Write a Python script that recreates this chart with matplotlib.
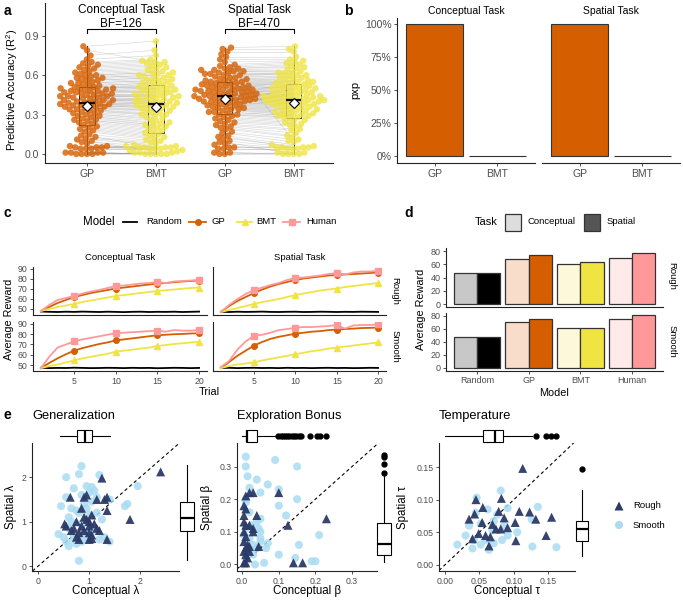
import numpy as np
import matplotlib
matplotlib.use('Agg')
import matplotlib.pyplot as plt
from matplotlib.patches import Rectangle
from matplotlib.collections import LineCollection

plt.rcParams['font.family'] = ['Liberation Sans', 'DejaVu Sans']
plt.rcParams['mathtext.default'] = 'regular'

# ---------------- DATA ----------------
# Panel a: predictive accuracy (R^2), participant-paired
conc_gp = [0.00,0.01,0.00,0.01,0.00,0.01,0.00,0.01,0.04,0.05,0.04,0.06,0.05,0.04,0.06,0.05,
           0.08,0.09,0.10,0.11,0.12,0.13,0.14,0.15,0.17,0.18,
           0.19,0.20,0.21,0.22,0.23,0.24,0.25,0.26,0.26,0.27,0.28,0.29,0.29,0.30,0.31,0.31,0.32,0.33,0.33,0.34,
           0.34,0.35,0.35,0.36,0.36,0.37,0.37,0.37,0.38,0.38,
           0.38,0.39,0.39,0.40,0.40,0.41,0.41,0.41,0.42,0.42,0.43,0.43,0.44,0.44,0.44,0.45,0.45,0.46,0.46,0.46,
           0.47,0.47,0.48,0.48,0.48,0.49,0.49,0.50,0.50,0.50,
           0.51,0.51,0.52,0.52,0.53,0.54,0.54,0.55,0.56,0.56,0.57,0.58,0.58,0.59,0.60,0.60,0.61,0.62,0.63,0.64,
           0.65,0.66,0.67,0.68,0.69,0.70,0.72,0.75,0.79,0.82]
conc_bmt = [0.00,0.00,0.01,0.00,0.01,0.00,0.01,0.00,0.04,0.05,0.03,0.05,0.04,0.06,0.05,0.04,
            0.03,0.06,0.02,0.07,0.08,0.09,0.05,0.10,0.11,0.12,
            0.13,0.14,0.15,0.16,0.17,0.18,0.19,0.20,0.21,0.22,0.22,0.23,0.24,0.25,0.26,0.27,0.28,0.29,0.30,0.30,
            0.31,0.32,0.33,0.33,0.34,0.35,0.35,0.36,0.36,0.37,
            0.37,0.38,0.38,0.39,0.39,0.40,0.40,0.41,0.41,0.42,0.42,0.43,0.43,0.44,0.44,0.45,0.45,0.46,0.46,0.47,
            0.47,0.48,0.48,0.49,0.49,0.50,0.50,0.51,0.51,0.52,
            0.52,0.53,0.54,0.54,0.55,0.56,0.56,0.57,0.58,0.58,0.59,0.60,0.60,0.61,0.62,0.62,0.63,0.64,0.65,0.66,
            0.67,0.68,0.69,0.70,0.71,0.72,0.75,0.79,0.70,0.86]
spat_gp = [0.00,0.01,0.00,0.01,0.04,0.05,0.04,0.05,
           0.07,0.08,0.09,0.10,0.12,0.13,0.14,0.16,0.17,0.19,0.20,0.21,0.22,0.23,0.24,0.25,0.26,0.27,0.28,0.29,0.30,0.30,
           0.31,0.32,0.32,0.33,0.34,0.34,0.35,0.35,0.36,0.36,0.37,0.37,0.38,0.38,0.39,0.39,0.40,0.40,0.40,0.41,
           0.41,0.41,0.42,0.42,0.42,0.43,0.43,0.43,0.44,0.44,
           0.44,0.45,0.45,0.45,0.46,0.46,0.46,0.47,0.47,0.47,0.48,0.48,0.48,0.49,0.49,0.49,0.50,0.50,0.50,0.51,
           0.51,0.52,0.52,0.52,0.53,0.53,0.54,0.54,0.54,0.55,
           0.55,0.56,0.56,0.57,0.57,0.58,0.58,0.59,0.60,0.60,0.61,0.61,0.62,0.62,0.63,0.63,0.64,0.64,0.65,0.65,
           0.66,0.67,0.68,0.70,0.72,0.74,0.76,0.78,0.80,0.81]
spat_bmt = [0.00,0.00,0.01,0.00,0.04,0.05,0.04,0.05,
            0.01,0.04,0.00,0.05,0.06,0.05,0.07,0.09,0.11,0.13,0.14,0.16,0.18,0.19,0.21,0.22,0.23,0.24,0.25,0.26,0.27,0.28,
            0.28,0.29,0.29,0.30,0.30,0.31,0.31,0.32,0.32,0.33,0.33,0.34,0.34,0.35,0.35,0.36,0.36,0.37,0.37,0.38,
            0.38,0.38,0.39,0.39,0.39,0.40,0.40,0.40,0.41,0.41,
            0.41,0.42,0.42,0.42,0.43,0.43,0.43,0.44,0.44,0.44,0.45,0.45,0.45,0.46,0.46,0.47,0.47,0.48,0.48,0.49,
            0.49,0.50,0.50,0.50,0.51,0.51,0.52,0.52,0.53,0.53,
            0.54,0.54,0.55,0.55,0.56,0.56,0.57,0.58,0.58,0.59,0.60,0.60,0.61,0.62,0.62,0.63,0.64,0.65,0.66,0.67,
            0.68,0.69,0.70,0.71,0.72,0.74,0.10,0.78,0.80,0.82]
bf_labels = ['BF=126', 'BF=470']
task_titles = ['Conceptual Task', 'Spatial Task']
model_ticks = ['GP', 'BMT']

# Panel b: protected exceedance probability
pxp_conceptual = [1.0, 0.003]
pxp_spatial = [1.0, 0.003]

# Panel c: learning curves (trial 1..20)
trials = list(range(1, 21))
cr_random = [47.5,47.2,47.0,47.3,47.1,47.4,47.2,47.0,47.3,47.1,46.9,47.2,47.3,47.0,47.2,47.1,47.3,47.0,47.2,47.4]
cr_gp     = [48,52,56,59,62,64,66,67.5,69,70.5,71.5,72.5,73.5,74.5,75.5,76,76.8,77.5,78,78.5]
cr_bmt    = [48,50,52,53.5,55,57,58.5,60,61.5,63,64,65,66,67,68,68.8,69.5,70.3,71,71.5]
cr_human  = [48,54,59,61,63,65.5,67.5,69,71,73,73.5,74.5,75.5,76,77,76,77.5,78,78.5,79]
sr_random = [47.2,47.0,47.3,47.1,47.2,47.4,47.1,47.0,47.2,47.3,47.0,47.1,47.3,47.2,47.0,47.2,47.1,47.3,47.2,47.1]
sr_gp     = [47,53,58,62,66,69.5,72.5,75,77,79,80.5,81.5,82.5,83.5,84,84.5,85,85.5,86,86.5]
sr_bmt    = [47,49,51,53,55,57,58.5,60,62,64,65.5,67,68.5,69.5,70.5,72,73,74,75,76]
sr_human  = [47,54,60,65,69,71.5,74,76,79,81,81.5,82.5,83.5,85,86,84.5,86.5,87.5,87.5,88]
cs_random = [47.3,47.0,47.2,47.1,47.4,47.2,47.0,47.1,47.3,47.2,47.0,47.3,47.1,47.2,46.9,47.1,47.3,47.2,47.0,47.2]
cs_gp     = [47,52,56.5,60.5,64,66.5,68.5,70.5,72,74,75,76,77,78,79,79.5,80,80.3,80.7,81]
cs_bmt    = [47,49,50.5,52.5,54.5,56.5,58,59.5,61,63,64,65,66,67,68.5,69.5,70.5,71.2,72,72.5]
cs_human  = [47,58,67,70,73,75,76.5,78,79.5,81,81.5,82,82.5,83,83.5,82.5,84,83.5,83.5,84]
ss_random = [47.1,47.3,47.0,47.2,47.3,47.1,47.2,47.0,47.3,47.1,47.2,47.0,47.2,47.3,47.1,47.2,47.0,47.1,47.3,47.2]
ss_gp     = [47,53,59,64,69,72.5,75.5,77.5,79,80.5,81.5,82.5,83,84,84.5,85,85.5,86,86.2,86.5]
ss_bmt    = [47,49,50.5,51.5,52.5,54.5,56,57.5,59,60.5,62,63.5,64.5,66,67,68,69,70,71,72]
ss_human  = [48,54,65,73,78.5,79.5,81.5,84,85,86.5,87,87,87.5,88,89,85.5,88.5,89,89,89.5]
model_names = ['Random', 'GP', 'BMT', 'Human']

# Panel d: average reward by model and task
rough_conceptual = [47, 68, 61, 69]
rough_spatial    = [47, 74, 63, 77]
smooth_conceptual = [47, 70, 62, 76]
smooth_spatial    = [47, 76, 61, 81]

# Panel e: parameter estimates (conceptual x, spatial y)
lam_smooth_x = [0.85,0.55,0.80,1.20,1.95,0.70,0.95,1.05,1.10,0.85,1.15,1.40,0.45,1.70,1.75,0.65,0.75,0.80,0.95,1.05,
                1.00,0.65,0.60,0.40,0.55,0.60,0.75,0.85,0.95,1.00,1.20,1.40,1.30,0.80,0.70,0.90,1.10,0.85,1.25,0.55,
                1.00,0.90,0.70,0.50,1.15,0.60]
lam_smooth_y = [2.25,2.00,2.07,2.05,1.80,1.75,1.80,1.78,1.70,1.60,1.55,1.50,1.35,1.35,1.40,1.30,1.25,1.20,1.30,1.45,
                1.15,1.00,0.85,0.72,0.55,0.45,0.50,0.55,0.60,0.65,0.60,0.55,0.65,0.12,0.70,0.75,0.80,0.95,1.05,1.55,
                1.65,1.40,0.60,0.65,1.20,1.10]
lam_rough_x = [1.25,2.40,0.63,0.95,0.90,1.15,1.35,1.30,1.35,1.80,0.52,0.55,0.75,0.95,1.00,1.10,1.15,1.20,0.65,0.80,
               0.90,1.00,1.05,0.75,0.80,1.05,1.35,0.70,0.85,1.00,0.90,1.05,0.85,1.00]
lam_rough_y = [1.98,2.12,1.55,1.60,1.55,1.50,1.55,1.50,1.25,1.05,0.95,0.90,1.00,1.05,1.00,0.95,0.85,0.80,0.80,0.75,
               0.80,0.75,0.70,0.65,0.60,0.62,0.60,0.85,0.90,0.90,1.10,1.15,1.30,0.60]
beta_smooth_x = [0.010,0.010,0.090,0.150,0.015,0.040,0.070,0.100,0.050,0.020,0.010,0.150,0.100,0.010,0.120,0.020,
                 0.050,0.040,0.010,0.050,0.210,0.020,0.050,0.030,0.070,0.065,0.155,0.100,0.145,0.060,0.190,0.200,
                 0.010,0.030,0.040,0.020,0.015,0.005,0.035,0.050,0.025,0.045]
beta_smooth_y = [0.330,0.300,0.320,0.300,0.270,0.260,0.245,0.230,0.220,0.235,0.200,0.200,0.180,0.190,0.150,0.160,
                 0.140,0.130,0.110,0.100,0.090,0.080,0.080,0.060,0.065,0.050,0.060,0.030,0.020,0.005,0.010,0.010,
                 0.020,0.030,0.050,0.045,0.070,0.090,0.000,0.070,0.120,0.110]
beta_rough_x = [0.020,0.030,0.010,0.100,0.005,0.010,0.040,0.005,0.010,0.020,0.030,0.125,0.230,0.005,0.010,0.005,
                0.015,0.010,0.020,0.045,0.005,0.010,0.015,0.005,0.010,0.140,0.165,0.030,0.005,0.020]
beta_rough_y = [0.220,0.220,0.210,0.220,0.180,0.170,0.150,0.150,0.120,0.120,0.110,0.120,0.140,0.100,0.085,0.070,
                0.060,0.050,0.055,0.055,0.040,0.030,0.020,0.005,0.005,0.005,0.005,0.100,0.130,0.040]
tau_smooth_x = [0.081,0.046,0.135,0.091,0.062,0.126,0.076,0.052,0.071,0.105,0.091,0.042,0.052,0.064,0.127,0.162,
                0.083,0.071,0.059,0.086,0.069,0.018,0.030,0.040,0.035,0.045]
tau_smooth_y = [0.114,0.103,0.089,0.087,0.085,0.070,0.077,0.063,0.067,0.050,0.045,0.038,0.031,0.023,0.028,0.027,
                0.038,0.033,0.038,0.060,0.053,0.031,0.045,0.025,0.060,0.080]
tau_rough_x = [0.113,0.082,0.055,0.043,0.078,0.108,0.123,0.155,0.132,0.102,0.086,0.147,0.103,0.064,0.049,0.069,
               0.074,0.059,0.081,0.054,0.066,0.091,0.035,0.040,0.045]
tau_rough_y = [0.148,0.102,0.088,0.078,0.082,0.082,0.081,0.073,0.070,0.065,0.072,0.045,0.037,0.029,0.048,0.062,
               0.055,0.045,0.055,0.065,0.043,0.057,0.070,0.040,0.100]
# marginal boxplot summaries: [whislo, q1, median, q3, whishi]
lam_conc_box = [0.43, 0.76, 0.92, 1.06, 1.41];  lam_conc_fliers = []
lam_spat_box = [0.14, 0.80, 1.09, 1.45, 2.27];  lam_spat_fliers = []
beta_conc_box = [0.0, 0.011, 0.014, 0.040, 0.093]
beta_conc_fliers = [0.099,0.106,0.111,0.117,0.123,0.129,0.135,0.142,0.147,0.154,0.160,0.185,0.205,0.212,0.228]
beta_spat_box = [0.008, 0.030, 0.063, 0.127, 0.273]
beta_spat_fliers = [0.280, 0.308, 0.328, 0.336]
tau_conc_box = [0.0, 0.055, 0.073, 0.084, 0.126]
tau_conc_fliers = [0.132, 0.147, 0.154, 0.161]
tau_spat_box = [0.014, 0.037, 0.055, 0.067, 0.115]
tau_spat_fliers = [0.147]

# ---------------- STYLE ----------------
ORANGE = '#D55E00'; YELLOW = '#F0E442'; PINK = '#FF9999'
NAVY = '#2B3A67'; LBLUE = '#A9DCF3'
TXT = '#4D4D4D'
W, H = 683, 601
fig = plt.figure(figsize=(W/100, H/100), dpi=100)

def add_ax(x0, y0, x1, y1, **kw):
    return fig.add_axes([x0/W, 1 - y1/H, (x1-x0)/W, (y1-y0)/H], **kw)

def style(ax, fs, left=True, bottom=True):
    for s in ['top', 'right']:
        ax.spines[s].set_visible(False)
    ax.spines['left'].set_visible(left)
    ax.spines['bottom'].set_visible(bottom)
    for s in ['left', 'bottom']:
        ax.spines[s].set_linewidth(0.8)
        ax.spines[s].set_color('#222222')
    ax.tick_params(length=2.5, width=0.6, color='#333333', labelsize=fs,
                   labelcolor=TXT, pad=1.5)
    ax.patch.set_alpha(0)

ov = fig.add_axes([0, 0, 1, 1], zorder=20)
ov.set_xlim(0, W); ov.set_ylim(H, 0); ov.axis('off')

def T(x, y, s, fs, **kw):
    kw.setdefault('ha', 'center'); kw.setdefault('va', 'center')
    ov.text(x, y, s, fontsize=fs, **kw)

# panel letters
for lx, ly, l in [(4, 11, 'a'), (344, 11, 'b'), (4, 213, 'c'), (404, 213, 'd'), (4, 415, 'e')]:
    T(lx, ly, l, 10, ha='left', fontweight='bold')

# ---------------- PANEL A ----------------
ax0, ay0, ax1, ay1 = 45, 3, 333, 163
axA = add_ax(ax0, ay0, ax1, ay1)
xl = (0.39, 4.57); yl = (-0.069, 1.15)
axA.set_xlim(*xl); axA.set_ylim(*yl)
style(axA, 7.5)
axA.set_yticks([0, 0.3, 0.6, 0.9]); axA.set_yticklabels(['0.0', '0.3', '0.6', '0.9'])
axA.set_xticks([1, 2, 3, 4]); axA.set_xticklabels(model_ticks * 2)
pxx = (ax1 - ax0) / (xl[1] - xl[0]); pxy = (ay1 - ay0) / (yl[1] - yl[0])

def swarm_offsets(vals, diam):
    yp = np.asarray(vals) * pxy
    order = np.argsort(yp, kind='stable')
    placed = []
    offs = np.zeros(len(yp))
    for i in order:
        y = yp[i]
        cands = [0.0]
        for (px, py) in placed:
            dy = y - py
            if abs(dy) < diam:
                dx = np.sqrt(diam**2 - dy**2)
                cands += [px + dx, px - dx]
        cands = sorted(cands, key=lambda c: (abs(c), c))
        for c in cands:
            ok = True
            for (px, py) in placed:
                if (c - px)**2 + (y - py)**2 < diam**2 - 1e-6:
                    ok = False; break
            if ok:
                offs[i] = c; placed.append((c, y)); break
    return offs / pxx

groups = [(1, conc_gp, ORANGE), (2, conc_bmt, YELLOW), (3, spat_gp, ORANGE), (4, spat_bmt, YELLOW)]
segs = [[(1, g), (2, b)] for g, b in zip(conc_gp, conc_bmt)] + \
       [[(3, g), (4, b)] for g, b in zip(spat_gp, spat_bmt)]
axA.add_collection(LineCollection(segs, colors='#7f7f7f', alpha=0.3, linewidths=0.45, zorder=1))
bw = 0.22
for xc, vals, col in groups:
    v = np.asarray(vals)
    q1, med, q3 = np.percentile(v, [25, 50, 75])
    iqr = q3 - q1
    lo = v[v >= q1 - 1.5*iqr].min(); hi = v[v <= q3 + 1.5*iqr].max()
    axA.add_patch(Rectangle((xc - bw/2, q1), bw, q3 - q1, fill=False, ec='#222222', lw=0.7, zorder=2))
    axA.plot([xc, xc], [lo, q1], color='#222222', lw=0.7, zorder=2)
    axA.plot([xc, xc], [q3, hi], color='#222222', lw=0.7, zorder=2)
    off = swarm_offsets(v, 5.4)
    axA.scatter(xc + off, v, s=21, color=col, alpha=0.8, edgecolors='none', zorder=3)
    axA.plot([xc - bw/2, xc + bw/2], [med, med], color='#111111', lw=1.6, zorder=4, solid_capstyle='butt')
    axA.plot([xc], [v.mean()], marker='D', ms=5.5, mfc='white', mec='black', mew=0.8, zorder=5)
for i, (xa, xb) in enumerate([(1, 2), (3, 4)]):
    axA.plot([xa, xa, xb, xb], [0.918, 0.952, 0.952, 0.918], color='black', lw=0.8, zorder=5)
T(121, 10, task_titles[0], 8.5); T(121, 24, bf_labels[0], 8.5)
T(259, 10, task_titles[1], 8.5); T(259, 24, bf_labels[1], 8.5)
T(12, 90, 'Predictive Accuracy (R$^2$)', 8, rotation=90)

# ---------------- PANEL B ----------------
ylb = (-0.053, 1.046)
for k, (x0, x1, vals) in enumerate([(397, 535, pxp_conceptual), (542, 680, pxp_spatial)]):
    axB = add_ax(x0, 18, x1, 163)
    axB.set_xlim(0.4, 2.6); axB.set_ylim(*ylb)
    style(axB, 7.5, left=(k == 0))
    axB.bar([1, 2], vals, width=0.9, color=ORANGE, edgecolor='#333333', linewidth=0.8, zorder=2)
    axB.set_xticks([1, 2]); axB.set_xticklabels(model_ticks)
    if k == 0:
        axB.set_yticks([0, 0.25, 0.5, 0.75, 1.0])
        axB.set_yticklabels(['0%', '25%', '50%', '75%', '100%'])
    else:
        axB.set_yticks([])
    T((x0 + x1) / 2, 11, task_titles[k], 7.5)
T(355, 90, 'pxp', 8, rotation=90)

# ---------------- PANEL C ----------------
cols = {'Random': 'black', 'GP': ORANGE, 'BMT': YELLOW, 'Human': PINK}
marks = {'Random': None, 'GP': 'o', 'BMT': '^', 'Human': 's'}
cdata = {
    (0, 0): [cr_random, cr_gp, cr_bmt, cr_human],
    (0, 1): [sr_random, sr_gp, sr_bmt, sr_human],
    (1, 0): [cs_random, cs_gp, cs_bmt, cs_human],
    (1, 1): [ss_random, ss_gp, ss_bmt, ss_human],
}
rows_y = [(266.8, 315.2), (321.7, 371.4)]
cols_x = [(33, 207), (213, 386)]
for (r, c), series in cdata.items():
    y0, y1 = rows_y[r]; x0, x1 = cols_x[c]
    ax = add_ax(x0, y0, x1, y1)
    ax.set_xlim(0.05, 20.95); ax.set_ylim(43.8, 92.2)
    style(ax, 6.3)
    for name, vals in zip(model_names, series):
        ax.plot(trials, vals, color=cols[name], lw=1.3, marker=marks[name], ms=4,
                markevery=[4, 9, 14, 19] if marks[name] else None, zorder=3)
    ax.set_yticks([50, 60, 70, 80, 90])
    ax.set_xticks([5, 10, 15, 20])
    if c == 1:
        ax.tick_params(labelleft=False, left=False)
    if r == 0:
        ax.tick_params(labelbottom=False, bottom=False)
T(120, 258, task_titles[0], 6.8); T(300, 258, task_titles[1], 6.8)
T(395, 291, 'Rough', 6.8, rotation=-90); T(395, 346, 'Smooth', 6.8, rotation=-90)
T(9, 319, 'Average Reward', 7.8, rotation=90)
T(209, 392, 'Trial', 7.8)
# legend c
T(99, 222, 'Model', 8.3)
leg_c = [('Random', 123, 137, 146), ('GP', 189, 206, 211), ('BMT', 237, 252, 256), ('Human', 283, 300, 306)]
for name, lx0, lx1, tx in leg_c:
    ov.plot([lx0, lx1], [222, 222], color=cols[name], lw=1.3)
    if marks[name]:
        ov.plot([(lx0 + lx1) / 2], [222], marker=marks[name], color=cols[name], ms=4)
    T(tx, 222, name, 6.8, ha='left')

# ---------------- PANEL D ----------------
light = ['#C8C8C8', '#F8DDCB', '#FEF8DA', '#FFEAEA']
dark = ['#000000', ORANGE, YELLOW, PINK]
drows = [(247.7, 306.7, rough_conceptual, rough_spatial), (312.7, 370.6, smooth_conceptual, smooth_spatial)]
xpos = np.arange(1, 5)
for r, (y0, y1, vc, vs) in enumerate(drows):
    ax = add_ax(446, y0, 663, y1)
    ax.set_xlim(0.4, 4.6); ax.set_ylim(-4.05, 85.05)
    style(ax, 6.5)
    ax.bar(xpos - 0.225, vc, width=0.45, color=light, edgecolor='#333333', linewidth=0.9)
    ax.bar(xpos + 0.225, vs, width=0.45, color=dark, edgecolor='#333333', linewidth=0.9)
    ax.set_yticks([0, 20, 40, 60, 80])
    ax.set_xticks(xpos); ax.set_xticklabels(model_names)
    if r == 0:
        ax.tick_params(labelbottom=False, bottom=False)
T(672, 276, 'Rough', 6.8, rotation=-90); T(672, 341, 'Smooth', 6.8, rotation=-90)
T(421, 309, 'Average Reward', 7.8, rotation=90)
T(554, 393, 'Model', 7.8)
T(486, 222, 'Task', 8)
ov.add_patch(Rectangle((505, 213.5), 16, 17, fc='#DDDDDD', ec='#333333', lw=0.9))
T(528, 222, 'Conceptual', 6.8, ha='left')
ov.add_patch(Rectangle((584, 213.5), 16, 17, fc='#555555', ec='#333333', lw=0.9))
T(607, 222, 'Spatial', 6.8, ha='left')

# ---------------- PANEL E ----------------
def bxp_stats(st, fl):
    return [dict(whislo=st[0], q1=st[1], med=st[2], q3=st[3], whishi=st[4], fliers=fl)]

epanels = [
    dict(x0=32, x1=179, xl=(-0.12, 2.76), yl=(-0.11, 2.77), title='Generalization', sym='λ',
         sx=lam_smooth_x, sy=lam_smooth_y, rx=lam_rough_x, ry=lam_rough_y,
         ticks=[0, 1, 2], tl=['0', '1', '2'],
         topb=(lam_conc_box, lam_conc_fliers), rightb=(lam_spat_box, lam_spat_fliers), rc=187, rw=14),
    dict(x0=237, x1=377, xl=(-0.014, 0.368), yl=(-0.02, 0.372), title='Exploration Bonus', sym='β',
         sx=beta_smooth_x, sy=beta_smooth_y, rx=beta_rough_x, ry=beta_rough_y,
         ticks=[0, 0.1, 0.2, 0.3], tl=['0.0', '0.1', '0.2', '0.3'],
         topb=(beta_conc_box, beta_conc_fliers), rightb=(beta_spat_box, beta_spat_fliers), rc=384, rw=14),
    dict(x0=439, x1=575, xl=(-0.0087, 0.189), yl=(-0.0095, 0.187), title='Temperature', sym='τ',
         sx=tau_smooth_x, sy=tau_smooth_y, rx=tau_rough_x, ry=tau_rough_y,
         ticks=[0, 0.05, 0.10, 0.15], tl=['0.00', '0.05', '0.10', '0.15'],
         topb=(tau_conc_box, tau_conc_fliers), rightb=(tau_spat_box, tau_spat_fliers), rc=582, rw=12),
]
ey0, ey1 = 443, 571
for p in epanels:
    ax = add_ax(p['x0'], ey0, p['x1'], ey1)
    ax.set_xlim(*p['xl']); ax.set_ylim(*p['yl'])
    style(ax, 6.3)
    ax.axline((0, 0), slope=1, color='black', lw=0.8, dashes=(3, 2.5), zorder=1)
    ax.scatter(p['sx'], p['sy'], s=34, marker='o', color=LBLUE, alpha=0.85, edgecolors='none', zorder=2)
    ax.scatter(p['rx'], p['ry'], s=42, marker='^', color=NAVY, alpha=0.95, edgecolors='none', zorder=3)
    ax.set_xticks(p['ticks']); ax.set_xticklabels(p['tl'])
    ax.set_yticks(p['ticks']); ax.set_yticklabels(p['tl'])
    T(p['x0'], 416, p['title'], 9.3, ha='left')
    T((p['x0'] + p['x1']) / 2, 591, 'Conceptual ' + p['sym'], 8.3)
    # top boxplot
    axt = add_ax(p['x0'], 426, p['x1'], 446)
    axt.set_xlim(*p['xl']); axt.set_ylim(-1, 1); axt.axis('off')
    axt.bxp(bxp_stats(*p['topb']), positions=[0], widths=1.2, vert=False, patch_artist=True,
            boxprops=dict(facecolor='white', edgecolor='black', lw=0.8),
            medianprops=dict(color='black', lw=1.6), whiskerprops=dict(lw=0.8),
            flierprops=dict(marker='o', mfc='black', mec='black', ms=3.5), showcaps=False)
    for a in axt.get_children():
        try:
            a.set_clip_on(False)
        except Exception:
            pass
    # right boxplot
    axr = add_ax(p['rc'] - 10, ey0, p['rc'] + 10, ey1)
    axr.set_ylim(*p['yl']); axr.set_xlim(-1, 1); axr.axis('off')
    axr.bxp(bxp_stats(*p['rightb']), positions=[0], widths=p['rw'] / 10, vert=True, patch_artist=True,
            boxprops=dict(facecolor='white', edgecolor='black', lw=0.8),
            medianprops=dict(color='black', lw=1.6), whiskerprops=dict(lw=0.8),
            flierprops=dict(marker='o', mfc='black', mec='black', ms=3.5), showcaps=False)
T(11, 507, 'Spatial λ', 8.3, rotation=90)
T(207, 507, 'Spatial β', 8.3, rotation=90)
T(403, 507, 'Spatial τ', 8.3, rotation=90)
# legend e
ov.scatter([619], [506], s=42, marker='^', color=NAVY, edgecolors='none')
ov.scatter([619], [525], s=34, marker='o', color=LBLUE, edgecolors='none')
T(633, 506, 'Rough', 6.8, ha='left')
T(633, 525, 'Smooth', 6.8, ha='left')

fig.savefig('out.png', dpi=100)
